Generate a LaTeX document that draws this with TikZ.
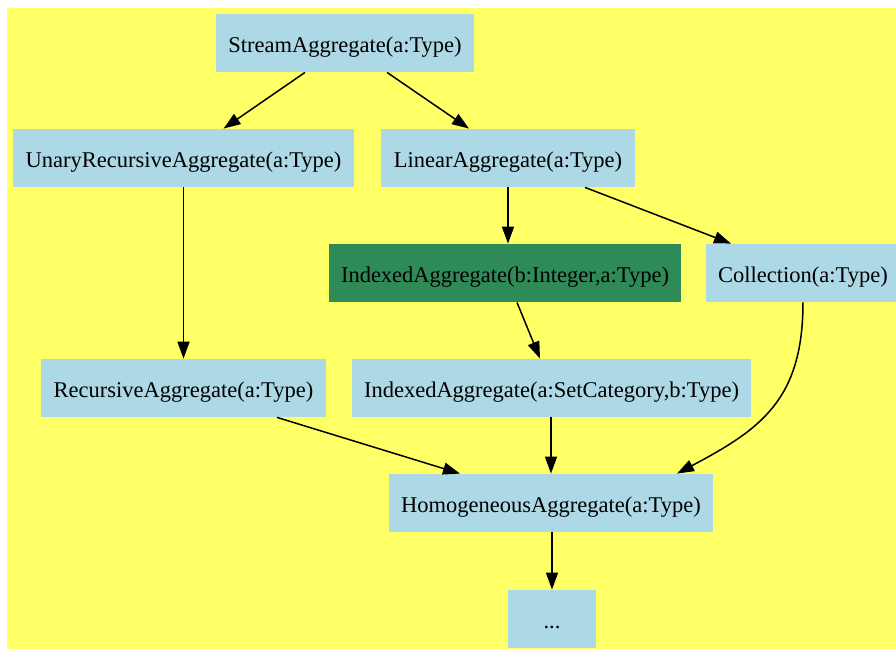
\documentclass[tikz,border=0pt]{standalone}
\usepackage{fontspec}
\setmainfont{Liberation Serif}
\usepackage{xcolor}
\usepackage{tikz}
\usetikzlibrary{arrows.meta}
\definecolor{bgyellow}{HTML}{FFFF66}
\definecolor{lblue}{HTML}{ADD8E6}
\definecolor{sgreen}{HTML}{2E8B57}

\begin{document}
\begin{tikzpicture}[x=0.5pt,y=-0.5pt,>={Triangle[length=8.5pt,width=6pt]},
 cat/.style={rectangle,fill=lblue,minimum height=29pt,minimum width=44pt,
  inner xsep=6.2pt,text height=12pt,text depth=3pt,
  font=\fontsize{11.25}{13}\selectfont},
 hl/.style={cat,fill=sgreen},
 edge/.style={->,line width=0.75pt}]
\useasboundingbox (0,0) rectangle (896,649);
\fill[bgyellow] (7,8) rectangle (896,649);
\node[cat] (str) at (345,43) {StreamAggregate(a:Type)};
\node[cat] (ura) at (183.5,158) {UnaryRecursiveAggregate(a:Type)};
\node[cat] (lin) at (508,158) {LinearAggregate(a:Type)};
\node[hl] (iai) at (505,273) {IndexedAggregate(b:Integer,a:Type)};
\node[cat] (col) at (803,273) {Collection(a:Type)};
\node[cat] (rec) at (183.5,388) {RecursiveAggregate(a:Type)};
\node[cat] (ias) at (551.5,388) {IndexedAggregate(a:SetCategory,b:Type)};
\node[cat] (hom) at (551,503) {HomogeneousAggregate(a:Type)};
\node[cat] (dots) at (552,619) {...};
\draw[edge] ([xshift=-20pt]str.south) -- ([xshift=20pt]ura.north);
\draw[edge] ([xshift=21pt]str.south) -- ([xshift=-19.5pt]lin.north);
\draw[edge] (ura) -- (rec);
\draw[edge] (lin) -- (lin |- iai.north);
\draw[edge] ([xshift=38.5pt]lin.south) -- ([xshift=-36pt]col.north);
\draw[edge] ([xshift=6pt]iai.south) -- ([xshift=-5.75pt]ias.north);
\draw[edge] (col.south) to[out=-90,in=28,out distance=49pt,in distance=47pt]
 ([xshift=63pt]hom.north);
\draw[edge] ([xshift=46.75pt]rec.south) -- ([xshift=-45.5pt]hom.north);
\draw[edge] (ias.south -| hom) -- (hom);
\draw[edge] (hom.south -| dots) -- (dots);
\end{tikzpicture}
\end{document}
